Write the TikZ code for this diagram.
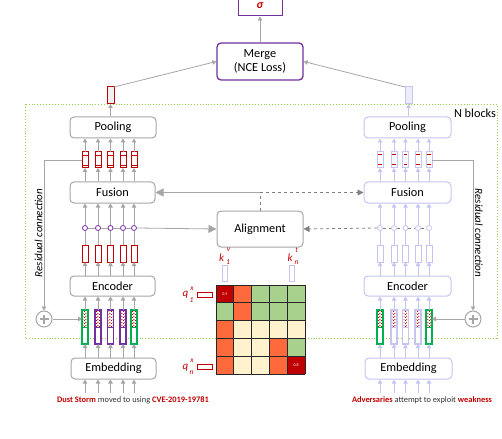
\documentclass[tikz,border=0pt]{standalone}
\usepackage{fontspec}
\setmainfont{Carlito}
\usetikzlibrary{arrows.meta,patterns,calc}
\definecolor{lgray}{HTML}{A6A6A6}
\definecolor{dgray}{HTML}{7F7F7F}
\definecolor{lav}{HTML}{C5C5F2}
\definecolor{lavfill}{HTML}{EDEDFA}
\definecolor{pur}{HTML}{7030A0}
\definecolor{dred}{HTML}{C00000}
\definecolor{grn}{HTML}{00B050}
\definecolor{lgrn}{HTML}{92D050}
\definecolor{corange}{HTML}{FF6A3D}
\definecolor{cgreen}{HTML}{A9D18E}
\definecolor{ccream}{HTML}{FFF2CC}
\pgfdeclarepatternformonly{speck}{\pgfqpoint{0pt}{0pt}}{\pgfqpoint{3pt}{3pt}}{\pgfqpoint{3pt}{3pt}}{%
  \pgfpathrectangle{\pgfqpoint{0pt}{0pt}}{\pgfqpoint{1.2pt}{1.2pt}}%
  \pgfpathrectangle{\pgfqpoint{1.5pt}{1.5pt}}{\pgfqpoint{1.2pt}{1.2pt}}%
  \pgfusepath{fill}}
\begin{document}
\begin{tikzpicture}[x=1pt,y=-1pt,
  mainfont/.style={font=\fontsize{12.3}{14.5}\selectfont},
  box/.style={draw=lgray,line width=1pt,rounded corners=4pt,fill=white,inner sep=0pt,mainfont},
  lbox/.style={box,draw=lav},
  tip/.style={-{Triangle[width=4.5pt,length=4pt]}},
  arr/.style={draw=lgray,line width=0.8pt,tip},
  larr/.style={draw=lav,line width=0.8pt,-{Triangle[width=4.5pt,length=4pt,fill=lav]}},
  bigarr/.style={draw=lgray,line width=0.8pt,-{Triangle[width=8pt,length=8pt]}},
  darr/.style={draw=dgray,line width=0.8pt,dashed,-{Triangle[width=6pt,length=6pt]}},
  vec/.style={minimum width=6pt,inner sep=0pt,outer sep=0pt,fill=white,line width=1pt},
  circ/.style={circle,minimum size=5pt,inner sep=0pt,fill=white,line width=0.8pt},
  plus/.style={circle,draw=lgray,minimum size=16pt,inner sep=0pt,fill=white,line width=1pt},
  lab/.style={text=dred,inner sep=0pt,font=\fontsize{11}{11}\selectfont\itshape},
  idx/.style={text=dred,inner sep=0pt,font=\fontsize{7.5}{7.5}\selectfont\itshape}
]
\useasboundingbox (0,0) rectangle (502,438);

% N blocks frame
\draw[lgrn,dotted,line width=0.9pt] (25,104.5) rectangle (497,338);
\node[mainfont,inner sep=0pt] (nb) at (475,113) {N blocks};

% top
\node[draw=pur,line width=1pt,minimum width=44pt,minimum height=22pt,inner sep=0pt] (sig) at (260,5) {};
\node[inner sep=0pt,text=dred,font=\fontsize{12}{12}\selectfont\bfseries\itshape] (sigt) at (260,6) {σ};
\node[box,draw=pur,line width=1.3pt,minimum width=86pt,minimum height=37pt,align=center] (merge) at (260,61.5) {Merge\\(NCE Loss)};
\node[vec,draw=dred,fill=black!6,minimum width=7pt,minimum height=17pt] (OL) at (110.5,95.5) {};
\node[vec,draw=lav,fill=lavfill,minimum width=7pt,minimum height=17pt] (OR) at (408.5,95.5) {};
\draw[arr] (merge.north) -- (sig.south);
\draw[arr] (OL.north east) -- (merge.west);
\draw[arr] (OR.north west) -- (merge.east);

% left boxes
\node[box,minimum width=86pt,minimum height=21pt] (LPool) at (113,127.5) {Pooling};
\node[box,minimum width=85pt,minimum height=21pt] (LFus) at (112.5,192.5) {Fusion};
\node[box,minimum width=85pt,minimum height=20pt] (LEnc) at (112.5,286) {Encoder};
\node[box,minimum width=85pt,minimum height=21pt] (LEmb) at (113.5,368.5) {Embedding};
% right boxes
\node[lbox,minimum width=87pt,minimum height=21pt] (RPool) at (407.5,127.5) {Pooling};
\node[lbox,minimum width=87pt,minimum height=21pt] (RFus) at (407.5,192.5) {Fusion};
\node[lbox,minimum width=87pt,minimum height=20pt] (REnc) at (407.5,286) {Encoder};
\node[lbox,minimum width=87pt,minimum height=21pt] (REmb) at (408.5,368.5) {Embedding};
% alignment
\node[box,minimum width=86pt,minimum height=36pt] (Align) at (260,229) {Alignment};

\draw[arr] (LPool.north -| OL) -- (OL.south);
\draw[larr] (RPool.north -| OR) -- (OR.south);

% left columns
\foreach \i/\x/\c in {1/85/grn,2/98/pur,3/110.5/pur,4/123/pur,5/134/grn}{
  \node[vec,draw=dred,minimum height=16pt] (LT\i) at (\x,160) {};
  \draw[dred,line width=0.8pt] ($(LT\i.north west)+(0,3)$) -- ($(LT\i.north east)+(0,3)$);
  \draw[dred,line width=0.8pt] ($(LT\i.south west)+(0,-3)$) -- ($(LT\i.south east)+(0,-3)$);
  \node[vec,draw=dred,minimum height=17pt] (LE\i) at (\x,253.5) {};
  \node[circ,draw=pur] (LC\i) at (\x,228) {};
  \node[vec,draw=\c,line width=1.2pt,minimum height=34pt] (LB\i) at (\x,327) {};
  \fill[pattern=speck,pattern color=dred] ($(LB\i.north west)+(1.2,1.2)$) rectangle ($(LB\i.east)+(-1.2,-1)$);
  \draw[\c,line width=1pt] (LB\i.west) -- (LB\i.east);
  \coordinate (Lin\i) at (\x,393);
  \draw[arr] (LFus.north -| LT\i) -- (LT\i.south);
  \draw[arr] (LT\i.north) -- (LPool.south -| LT\i);
  \draw[arr] (LC\i.north) -- (LFus.south -| LC\i);
  \draw[lgray,line width=0.8pt] (LE\i.north) -- (LC\i.south);
  \draw[arr] (LEnc.north -| LE\i) -- (LE\i.south);
  \draw[arr] (LB\i.north) -- (LEnc.south -| LB\i);
  \draw[arr] (LEmb.north -| LB\i) -- (LB\i.south);
  \draw[arr] (Lin\i) -- (LEmb.south -| Lin\i);
}
% right columns
\foreach \i/\x/\c in {1/380/grn,2/394/lav,3/405.5/lav,4/418/lav,5/429/grn}{
  \node[vec,draw=lav,minimum height=16pt] (RT\i) at (\x,160) {};
  \draw[dred,line width=1pt] ($(RT\i.north)+(-1.6,3)$) -- ($(RT\i.north)+(1.6,3)$);
  \draw[dred,line width=1pt] ($(RT\i.south)+(-1.6,-3)$) -- ($(RT\i.south)+(1.6,-3)$);
  \node[vec,draw=lav,minimum height=17pt] (RE\i) at (\x,253.5) {};
  \node[circ,draw=lav] (RC\i) at (\x,228) {};
  \node[vec,draw=\c,line width=1.2pt,minimum height=34pt] (RB\i) at (\x,327) {};
  \fill[pattern=speck,pattern color=dred] ($(RB\i.north west)+(1.2,1.5)$) rectangle ($(RB\i.east)+(-1.2,-1)$);
  \draw[\c,line width=1pt] (RB\i.west) -- (RB\i.east);
  \coordinate (Rin\i) at (\x,393);
  \draw[larr] (RFus.north -| RT\i) -- (RT\i.south);
  \draw[larr] (RT\i.north) -- (RPool.south -| RT\i);
  \draw[larr] (RC\i.north) -- (RFus.south -| RC\i);
  \draw[lav,line width=0.8pt] (RE\i.north) -- (RC\i.south);
  \draw[larr] (REnc.north -| RE\i) -- (RE\i.south);
  \draw[larr] (RB\i.north) -- (REnc.south -| RB\i);
  \draw[larr] (REmb.north -| RB\i) -- (RB\i.south);
  \draw[larr] (Rin\i) -- (REmb.south -| Rin\i);
}

% circles to alignment
\foreach \a/\b in {1/2,2/3,3/4,4/5}{
  \draw[lgray,line width=0.8pt] (LC\a.east) -- (LC\b.west);
  \draw[dgray,line width=0.8pt,dashed] (RC\a.east) -- (RC\b.west);
}
\draw[bigarr] (LC5.east) -- (Align.west);
\draw[darr] (RC1.west) -- (Align.east);
% alignment to fusion
\draw[dgray,line width=0.8pt,dashed] (Align.north) -- (Align.north |- LFus.east);
\draw[bigarr] (Align.north |- LFus.east) -- (LFus.east);
\draw[darr] (Align.north |- RFus.west) -- (RFus.west);

% residual connections
\node[plus] (PL) at (44,319) {};
\draw[lgray,line width=1.2pt] ($(PL.center)+(-4.5,0)$) -- ($(PL.center)+(4.5,0)$) ($(PL.center)+(0,-4.5)$) -- ($(PL.center)+(0,4.5)$);
\node[plus] (PR) at (473,319) {};
\draw[lgray,line width=1.2pt] ($(PR.center)+(-4.5,0)$) -- ($(PR.center)+(4.5,0)$) ($(PR.center)+(0,-4.5)$) -- ($(PR.center)+(0,4.5)$);
\draw[arr] (LT1.west) -| (PL.north);
\draw[arr] (PL.east) -- (PL.east -| LB1.west);
\draw[arr] (RT5.east) -| (PR.north);
\draw[arr] (PR.west) -- (PR.west -| RB5.east);
\node[rotate=90,inner sep=0pt,font=\fontsize{11}{12}\selectfont\itshape] (resL) at (38.5,233) {Residual connection};
\node[rotate=-90,inner sep=0pt,font=\fontsize{11}{12}\selectfont\itshape] (resR) at (479,233) {Residual connection};

% similarity matrix
\def\cs{17.8}
\foreach \r/\row in {0/{dred,corange,cgreen,cgreen,cgreen},1/{cgreen,corange,cgreen,cgreen,cgreen},2/{corange,ccream,ccream,ccream,ccream},3/{corange,ccream,ccream,corange,cgreen},4/{corange,ccream,ccream,corange,dred}}{
  \foreach \c [count=\ci from 0] in \row {
    \fill[\c] (216+\ci*\cs,285+\r*\cs) rectangle ++(\cs,\cs);
  }
}
\foreach \k in {0,...,5}{
  \draw[black!85,line width=0.9pt] (216+\k*\cs,285) -- (216+\k*\cs,374);
  \draw[black!85,line width=0.9pt] (216,285+\k*\cs) -- (305,285+\k*\cs);
}
\node[text=white,inner sep=0pt,font=\fontsize{4}{4}\selectfont] (v09) at (224.9,293.9) {0.9};
\node[text=white,inner sep=0pt,font=\fontsize{4}{4}\selectfont] (v08) at (296.1,365.1) {0.8};

\node[vec,draw=lav,line width=0.8pt,minimum width=5.5pt,minimum height=16pt] (KV) at (225,273) {};
\node[vec,draw=lav,line width=0.8pt,minimum width=5.5pt,minimum height=16pt] (KT) at (292,273) {};
\node[lab] (kvl) at (221.5,258) {k};
\node[idx] (kvs) at (228.5,250) {v};
\node[idx] (kvb) at (228,262.5) {1};
\node[lab] (ktl) at (290,258) {k};
\node[idx] (kts) at (296.5,250) {t};
\node[idx] (ktb) at (296.5,262.5) {n};
\node[vec,draw=dred,line width=1pt,minimum width=15pt,minimum height=5pt] (Q1) at (204.5,294.5) {};
\node[vec,draw=dred,line width=1pt,minimum width=15pt,minimum height=5pt] (Qn) at (204.5,367) {};
\node[lab] (q1l) at (185.5,295) {q};
\node[idx] (q1s) at (192,288.5) {x};
\node[idx] (q1b) at (191.5,300) {1};
\node[lab] (qnl) at (185.5,367.5) {q};
\node[idx] (qns) at (192,361) {x};
\node[idx] (qnb) at (191.5,372.5) {n};

% input texts
\node[inner sep=0pt,font=\fontsize{8.4}{9}\selectfont,text=black!80] (tL) at (133,400) {\textcolor{dred}{\bfseries Dust Storm} moved to using \textcolor{dred}{\bfseries CVE-2019-19781}};
\node[inner sep=0pt,font=\fontsize{8.4}{9}\selectfont,text=black!80] (tR) at (422,400) {\textcolor{dred}{\bfseries Adversaries} attempt to exploit \textcolor{dred}{\bfseries weakness}};
\end{tikzpicture}
\end{document}
